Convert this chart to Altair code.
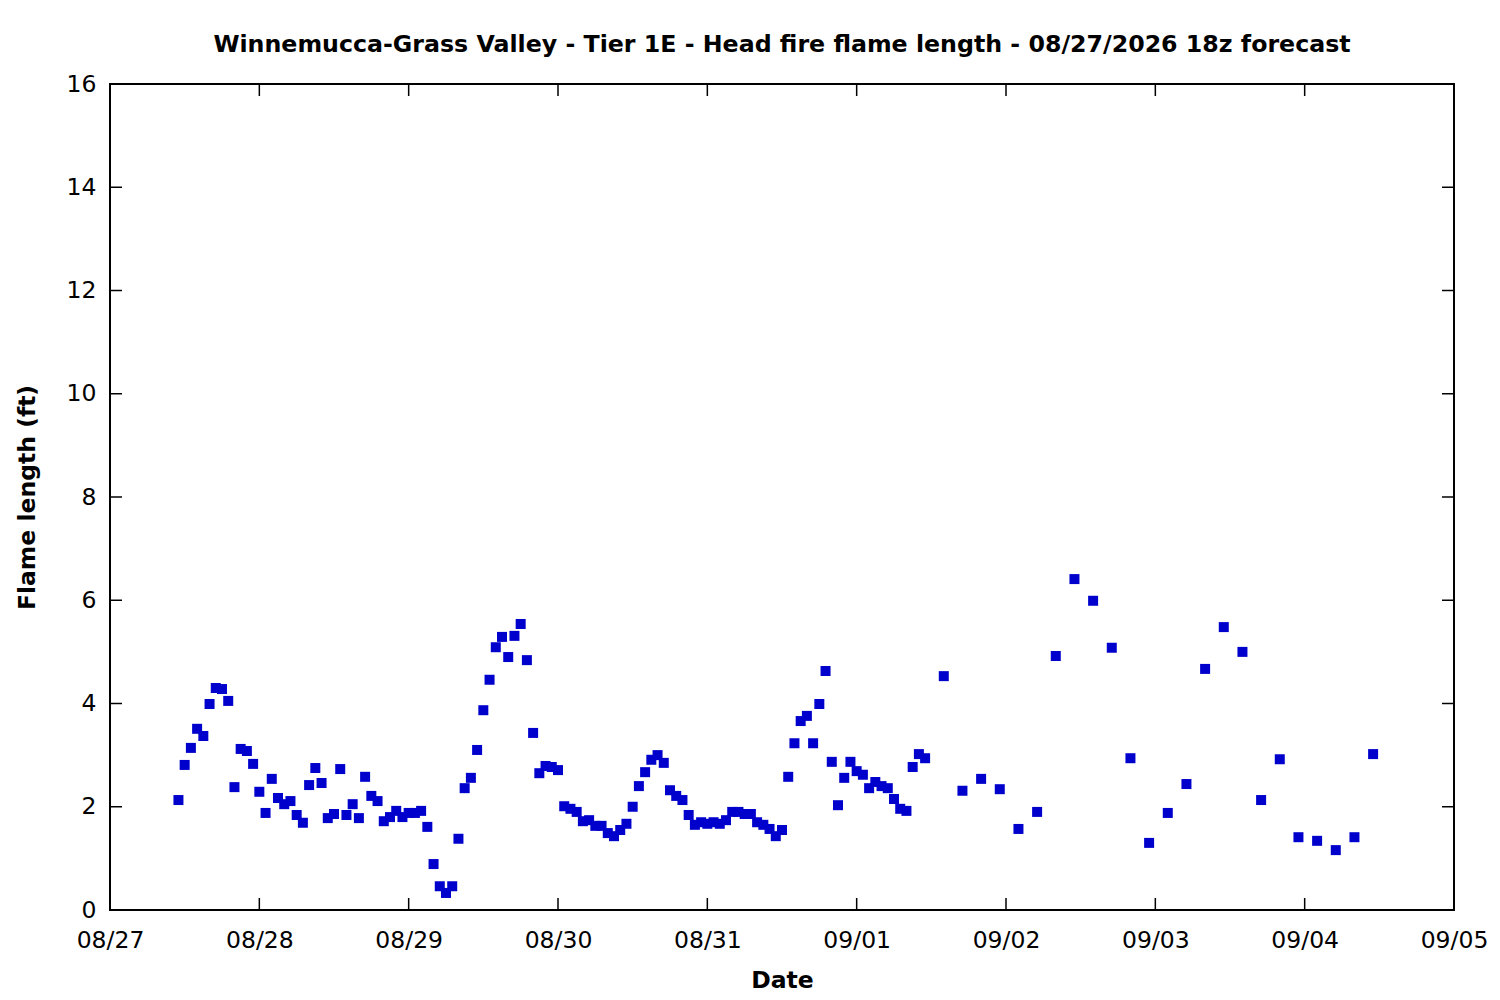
import altair as alt
import pandas as pd

# Hourly forecast values (ft), 08/27 11:00 -> 09/01 11:00
hourly_values = [
    2.13, 2.81, 3.14, 3.51, 3.37, 3.99, 4.30, 4.28, 4.05, 2.38,
    3.12, 3.08, 2.83, 2.29, 1.88, 2.54, 2.17, 2.05, 2.11, 1.84,
    1.69, 2.42, 2.75, 2.46, 1.78, 1.86, 2.73, 1.84, 2.05, 1.78,
    2.58, 2.21, 2.11, 1.72, 1.80, 1.92, 1.80, 1.88, 1.88, 1.92,
    1.61, 0.89, 0.46, 0.33, 0.46, 1.38, 2.36, 2.56, 3.10, 3.87,
    4.46, 5.09, 5.29, 4.90, 5.31, 5.54, 4.84, 3.43, 2.65, 2.79,
    2.77, 2.71, 2.01, 1.96, 1.90, 1.72, 1.74, 1.63, 1.63, 1.49,
    1.43, 1.55, 1.67, 2.00, 2.40, 2.67, 2.91, 3.00, 2.85, 2.32,
    2.21, 2.13, 1.84, 1.65, 1.70, 1.67, 1.70, 1.67, 1.74, 1.90,
    1.90, 1.86, 1.86, 1.70, 1.65, 1.57, 1.43, 1.55, 2.58, 3.23,
    3.66, 3.76, 3.23, 3.99, 4.63, 2.87, 2.03, 2.56, 2.87, 2.69,
    2.62, 2.36, 2.48, 2.40, 2.36, 2.15, 1.96, 1.92, 2.77, 3.02,
    2.94,
]
# 3-hourly forecast values (ft), 09/01 14:00 -> 09/04 11:00
three_hourly_values = [
    4.53, 2.31, 2.54, 2.34, 1.57, 1.90, 4.92, 6.41, 5.99, 5.08,
    2.94, 1.30, 1.88, 2.44, 4.67, 5.48, 5.00, 2.13, 2.92, 1.41,
    1.34, 1.16, 1.41, 3.02,
]
hourly_start = "2026-08-27 11:00"
three_hourly_start = "2026-09-01 14:00"

x_tick_dates = ["2026-08-27", "2026-08-28", "2026-08-29", "2026-08-30", "2026-08-31",
                "2026-09-01", "2026-09-02", "2026-09-03", "2026-09-04", "2026-09-05"]
y_tick_values = [0, 2, 4, 6, 8, 10, 12, 14, 16]

title_text = "Winnemucca-Grass Valley - Tier 1E - Head fire flame length - 08/27/2026 18z forecast"

t1 = pd.date_range(hourly_start, periods=len(hourly_values), freq="h")
t2 = pd.date_range(three_hourly_start, periods=len(three_hourly_values), freq="3h")
times = [t.strftime("%Y-%m-%dT%H:%M:%S") for t in list(t1) + list(t2)]
df = pd.DataFrame({"t": times, "v": hourly_values + three_hourly_values})
df_xt = pd.DataFrame({"t": [d + "T00:00:00" for d in x_tick_dates]})
df_yt = pd.DataFrame({"v": y_tick_values})

W, H = 1344, 826
FONT = "DejaVu Sans"
LBL = 23.5
TTL = 23.5

x_enc = alt.X(
    "t:T",
    scale=alt.Scale(domain=[x_tick_dates[0] + "T00:00:00", x_tick_dates[-1] + "T00:00:00"], nice=False),
    axis=alt.Axis(
        title="Date", values=[d + "T00:00:00" for d in x_tick_dates], format="%m/%d",
        ticks=False, tickSize=0, grid=False, domain=False,
        labelFont=FONT, labelFontSize=LBL, labelColor="black", labelPadding=18,
        labelFlush=False, labelOverlap=False,
        titleFont=FONT, titleFontSize=TTL, titleFontWeight="bold", titleColor="black",
        titleX=W / 2, titleY=70, titleBaseline="middle", titleAlign="center",
    ),
)
y_enc = alt.Y(
    "v:Q",
    scale=alt.Scale(domain=[0, 16], nice=False, zero=True),
    axis=alt.Axis(
        title="Flame length (ft)", values=y_tick_values,
        ticks=False, tickSize=0, grid=False, domain=False,
        labelFont=FONT, labelFontSize=LBL, labelColor="black", labelPadding=14,
        labelFlush=False, labelOverlap=False,
        titleFont=FONT, titleFontSize=TTL, titleFontWeight="bold", titleColor="black",
        titleX=-83, titleY=H / 2, titleAngle=270, titleBaseline="middle", titleAlign="center",
    ),
)

points = alt.Chart(df).mark_square(size=100, color="#0000cc", opacity=1).encode(x=x_enc, y=y_enc)

tick_len = 12
xt_bottom = alt.Chart(df_xt).mark_rule(color="black", strokeWidth=1.5).encode(
    x=x_enc, y=alt.value(H), y2=alt.value(H - tick_len))
xt_top = alt.Chart(df_xt).mark_rule(color="black", strokeWidth=1.5).encode(
    x=x_enc, y=alt.value(0), y2=alt.value(tick_len))
yt_left = alt.Chart(df_yt).mark_rule(color="black", strokeWidth=1.5).encode(
    y=y_enc, x=alt.value(0), x2=alt.value(tick_len))
yt_right = alt.Chart(df_yt).mark_rule(color="black", strokeWidth=1.5).encode(
    y=y_enc, x=alt.value(W), x2=alt.value(W - tick_len))

chart = alt.layer(xt_bottom, xt_top, yt_left, yt_right, points).properties(
    width=W, height=H,
    background="white",
    title=alt.Title(title_text, font=FONT, fontSize=23.7, fontWeight="bold", color="black",
                    anchor="middle", frame="group", offset=15),
    autosize=alt.AutoSizeParams(type="none"),
    padding={"left": 102, "top": 76, "right": 38, "bottom": 82},
).configure_view(stroke="black", strokeWidth=2)

chart.save("out.html", embed_options={"renderer": "svg", "actions": False})
